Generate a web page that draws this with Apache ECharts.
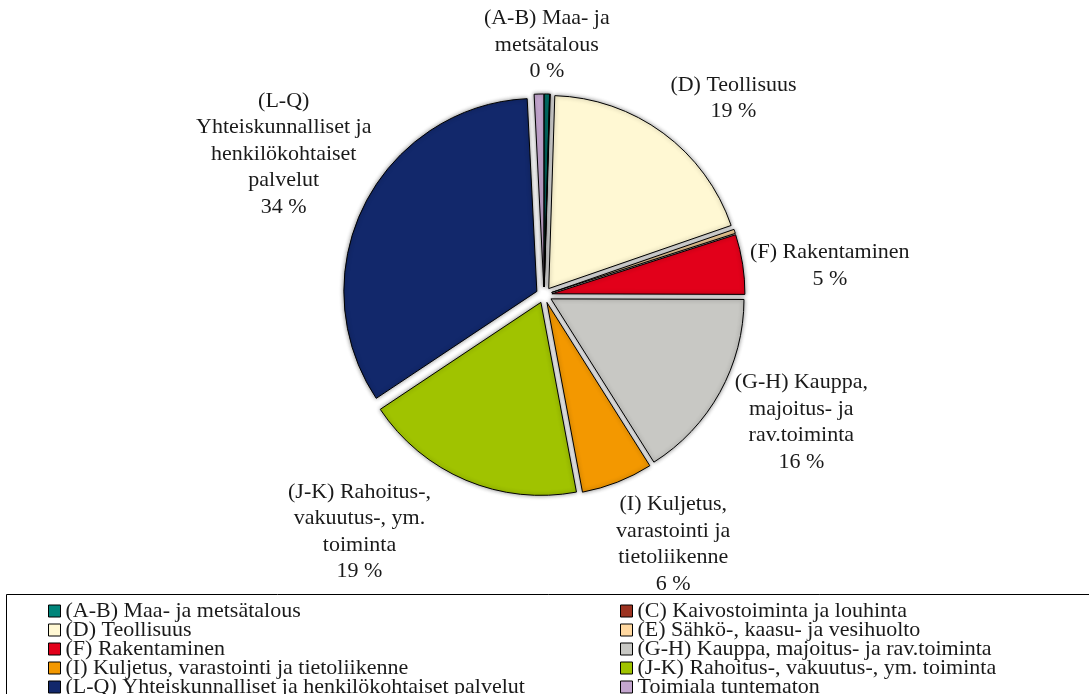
<!DOCTYPE html>
<html>
<head>
<meta charset="utf-8">
<script src="https://cdn.jsdelivr.net/npm/echarts@6/dist/echarts.min.js"></script>
<style>
  html, body { margin: 0; padding: 0; background: #fff; }
  #chart { width: 1089px; height: 694px; }
</style>
</head>
<body>
<div id="chart"></div>
<script>
// Toimialat (legend names, in drawing order, clockwise from 12 o'clock)
const categories = [
  '(A-B) Maa- ja metsätalous',
  '(C) Kaivostoiminta ja louhinta',
  '(D) Teollisuus',
  '(E) Sähkö-, kaasu- ja vesihuolto',
  '(F) Rakentaminen',
  '(G-H) Kauppa, majoitus- ja rav.toiminta',
  '(I) Kuljetus, varastointi ja tietoliikenne',
  '(J-K) Rahoitus-, vakuutus-, ym. toiminta',
  '(L-Q) Yhteiskunnalliset ja henkilökohtaiset palvelut',
  'Toimiala tuntematon'
];

// Osuudet (%)
const shares = [0.45, 0.05, 19.2, 0.35, 5.0, 16.0, 6.0, 18.6, 33.55, 0.8];

// Wrapped slice captions (null = no caption on the slice)
const sliceLabels = [
  '(A-B) Maa- ja\nmetsätalous',
  null,
  '(D) Teollisuus',
  null,
  '(F) Rakentaminen',
  '(G-H) Kauppa,\nmajoitus- ja\nrav.toiminta',
  '(I) Kuljetus,\nvarastointi ja\ntietoliikenne',
  '(J-K) Rahoitus-,\nvakuutus-, ym.\ntoiminta',
  '(L-Q)\nYhteiskunnalliset ja\nhenkilökohtaiset\npalvelut',
  null
];

const colors = [
  '#00857A', '#9C3321', '#FFF8D3', '#FFD8A0', '#E2001A',
  '#C8C8C4', '#F39800', '#A0C300', '#12286B', '#C4A6CF'
];

// Caption nudges [dx, dy] from the default outside anchor
const labelNudge = [[-1, 19], null, [30, 20], null, [20, 12], [22, -3], [31, -1], [-80, -11], [-20, -20], null];

const total = shares.reduce((a, b) => a + b, 0);
const font = 'Liberation Serif, Times New Roman, serif';
const textColor = '#1a1a1a';

const leftCol = [0, 2, 4, 6, 8].map(i => categories[i]);
const rightCol = [1, 3, 5, 7, 9].map(i => categories[i]);

const legendBase = {
  orient: 'vertical',
  top: 600,
  height: 160,
  padding: 0,
  itemGap: -3,
  itemWidth: 12,
  itemHeight: 12,
  icon: 'rect',
  selectedMode: false,
  itemStyle: { borderColor: '#000', borderWidth: 1, shadowBlur: 0 },
  textStyle: { fontFamily: font, fontSize: 22, lineHeight: 19, color: textColor }
};

const chart = echarts.init(document.getElementById('chart'), null, { renderer: 'canvas' });

chart.setOption({
  animation: false,
  backgroundColor: '#fff',
  color: colors,
  graphic: [{
    type: 'rect',
    silent: true,
    shape: { x: 6.5, y: 594.5, width: 1100, height: 150 },
    style: { fill: 'none', stroke: '#000', lineWidth: 1 }
  }],
  legend: [
    Object.assign({}, legendBase, { left: 48, data: leftCol }),
    Object.assign({}, legendBase, { left: 620, data: rightCol })
  ],
  series: [{
    type: 'pie',
    center: [544, 295],
    radius: 193,
    startAngle: 90,
    clockwise: true,
    avoidLabelOverlap: false,
    selectedMode: 'multiple',
    selectedOffset: 8,
    silent: true,
    emphasis: { disabled: true },
    itemStyle: {
      borderColor: '#000',
      borderWidth: 1,
      shadowBlur: 4,
      shadowColor: 'rgba(0,0,0,0.45)'
    },
    label: {
      show: true,
      position: 'outside',
      distanceToLabelLine: 0,
      fontFamily: font,
      fontSize: 22,
      lineHeight: 26.5,
      color: textColor,
      formatter: p => sliceLabels[p.dataIndex] + '\n' + Math.round(p.value / total * 100) + ' %'
    },
    labelLine: { show: false, length: 68, length2: 0 },
    labelLayout: p => {
      const n = labelNudge[p.dataIndex] || [0, 0];
      return { align: 'center', verticalAlign: 'middle', dx: n[0], dy: n[1] };
    },
    data: categories.map((name, i) => ({
      name: name,
      value: shares[i],
      selected: true,
      itemStyle: { color: colors[i] },
      label: { show: sliceLabels[i] !== null }
    }))
  }]
});
</script>
</body>
</html>
